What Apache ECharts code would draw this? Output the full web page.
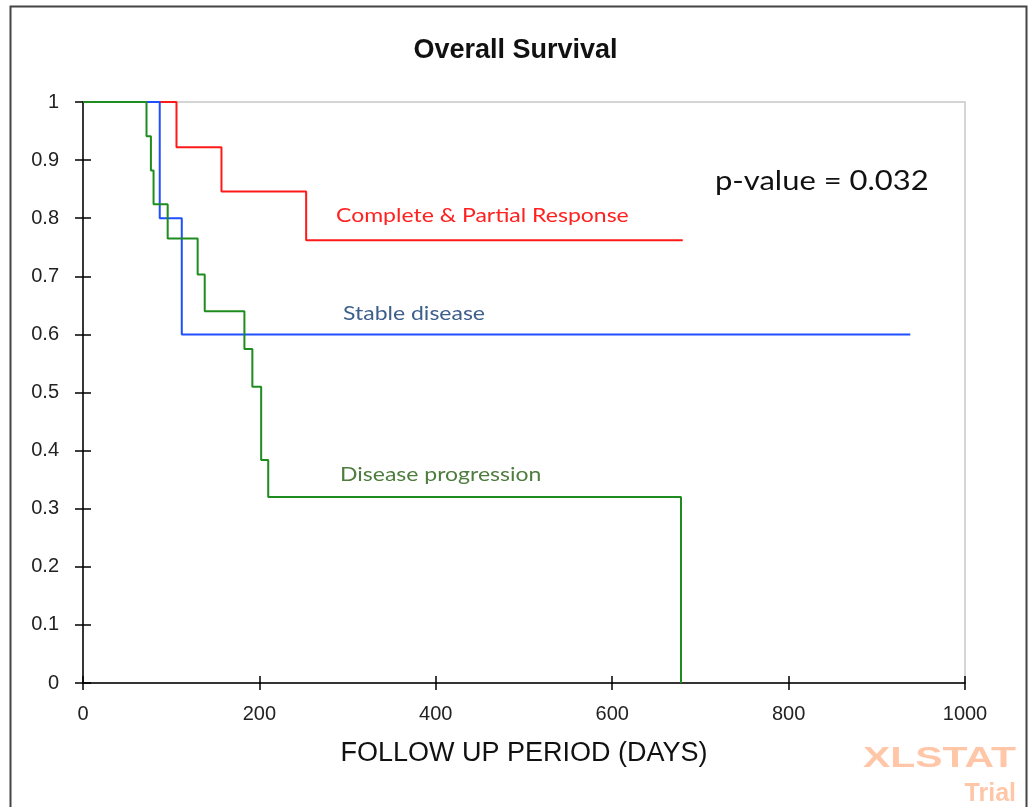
<!DOCTYPE html>
<html><head><meta charset="utf-8">
<script src="https://cdn.jsdelivr.net/npm/echarts@6/dist/echarts.min.js"></script>
<style>html,body{margin:0;padding:0;background:#fff}#c{width:1031px;height:807px}</style>
</head><body><div id="c"></div>
<script>
// Kaplan-Meier steps: [day, survival]
const respDays = [0, 106, 157, 253, 680];
const respSurv = [1, 0.922, 0.846, 0.762, 0.762];
const stableDays = [0, 87, 112, 938];
const stableSurv = [1, 0.8, 0.6, 0.6];
const progDays = [0, 72, 77, 80, 96, 130, 138, 183, 192, 202, 210, 678];
const progSurv = [1, 0.941, 0.882, 0.824, 0.765, 0.703, 0.640, 0.575, 0.510, 0.384, 0.320, 0];
const seriesNames = ['Complete & Partial Response', 'Stable disease', 'Disease progression'];
const xTicks = [0, 200, 400, 600, 800, 1000];
const yTicks = [0, 0.1, 0.2, 0.3, 0.4, 0.5, 0.6, 0.7, 0.8, 0.9, 1];
const titleText = 'Overall Survival';
const xName = 'FOLLOW UP PERIOD (DAYS)';
const pValueText = 'p-value = 0.032';

const zip = (a, b) => a.map((v, i) => [v, b[i]]);
const chart = echarts.init(document.getElementById('c'));
const axisFont = {fontFamily: 'Liberation Sans, Arial', fontSize: 20, color: '#222'};
const lineBlack = {lineStyle: {color: '#000', width: 1.5}};
const baseX = {type: 'value', min: xTicks[0], max: xTicks[xTicks.length - 1], interval: 200, splitLine: {show: false}};
const baseY = {type: 'value', min: yTicks[0], max: yTicks[yTicks.length - 1], interval: 0.1, splitLine: {show: false}};
const calFont = 'Lato, Carlito, Calibri';
chart.setOption({
  animation: false,
  title: {text: titleText, left: 'center', top: 32, textStyle: {fontFamily: 'Liberation Sans, Arial', fontSize: 27, fontWeight: 'bold', color: '#111'}},
  grid: {left: 83, right: 66, top: 102, bottom: 124, show: true, borderColor: '#c8c8c8', borderWidth: 1.5, backgroundColor: 'transparent'},
  xAxis: [
    Object.assign({}, baseX, {position: 'bottom', axisLine: lineBlack, axisTick: {inside: false, length: 7, lineStyle: {color: '#000', width: 1.5}},
      axisLabel: Object.assign({margin: 21, formatter: v => String(v)}, axisFont),
      name: xName, nameLocation: 'middle', nameGap: 57, nameTextStyle: {fontFamily: 'Liberation Sans, Arial', fontSize: 27, color: '#111'}}),
    Object.assign({}, baseX, {position: 'bottom', axisLine: {show: false}, axisTick: {inside: true, length: 7, lineStyle: {color: '#000', width: 1.5}}, axisLabel: {show: false}})
  ],
  yAxis: [
    Object.assign({}, baseY, {position: 'left', axisLine: lineBlack, axisTick: {inside: false, length: 8, lineStyle: {color: '#000', width: 1.5}},
      axisLabel: Object.assign({margin: 24, formatter: v => String(+v.toFixed(1))}, axisFont)}),
    Object.assign({}, baseY, {position: 'left', axisLine: {show: false}, axisTick: {inside: true, length: 8, lineStyle: {color: '#000', width: 1.5}}, axisLabel: {show: false}})
  ],
  series: [
    {name: seriesNames[0], type: 'line', step: 'end', symbol: 'none', data: zip(respDays, respSurv), lineStyle: {color: '#ff1a1a', width: 2}, z: 3},
    {name: seriesNames[1], type: 'line', step: 'end', symbol: 'none', data: zip(stableDays, stableSurv), lineStyle: {color: '#1f4fff', width: 2}, z: 4},
    {name: seriesNames[2], type: 'line', step: 'end', symbol: 'none', data: zip(progDays, progSurv), lineStyle: {color: '#1f8c1f', width: 2}, z: 5}
  ],
  graphic: [
    {type: 'rect', left: 8, top: 4, shape: {width: 1016, height: 810}, style: {fill: 'none', stroke: '#444', lineWidth: 2}, silent: true},
    {type: 'text', x: 715, y: 182, scaleX: 1.19, style: {text: pValueText, fontFamily: calFont, fontSize: 26, fill: '#111', verticalAlign: 'middle'}},
    {type: 'text', x: 336, y: 216, scaleX: 1.15, style: {text: seriesNames[0], fontFamily: calFont, fontSize: 20, fill: '#ff2020', verticalAlign: 'middle'}},
    {type: 'text', x: 343, y: 314, scaleX: 1.15, style: {text: seriesNames[1], fontFamily: calFont, fontSize: 20, fill: '#3d5f8c', verticalAlign: 'middle'}},
    {type: 'text', x: 340, y: 475, scaleX: 1.15, style: {text: seriesNames[2], fontFamily: calFont, fontSize: 20, fill: '#4f7d3f', verticalAlign: 'middle'}},
    {type: 'text', x: 1016, y: 759, scaleX: 1.41, style: {text: 'XLSTAT', fontFamily: 'Liberation Sans, Arial', fontWeight: 'bold', fontSize: 29, fill: '#ffc6a8', align: 'right', verticalAlign: 'middle'}},
    {type: 'text', x: 1016, y: 794, style: {text: 'Trial', fontFamily: 'Liberation Sans, Arial', fontWeight: 'bold', fontSize: 25, fill: '#ffc6a8', align: 'right', verticalAlign: 'middle'}}
  ]
});
</script></body></html>
